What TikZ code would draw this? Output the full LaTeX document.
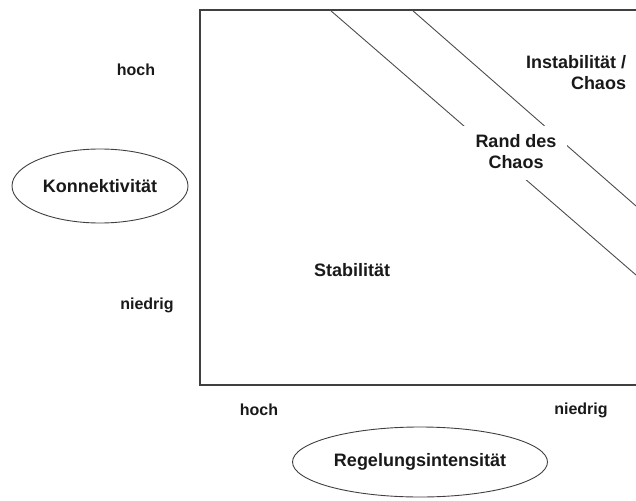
\documentclass[tikz,border=0pt]{standalone}
\usepackage{fontspec}
\setmainfont{Liberation Sans}
\usetikzlibrary{shapes.geometric}
\begin{document}
\begin{tikzpicture}[x=1pt,y=-1pt,
  lbl/.style={font=\fontsize{18}{21}\selectfont\bfseries, text=black!90, align=center, inner sep=0pt},
  axlbl/.style={font=\fontsize{16}{19}\selectfont\bfseries, text=black!90, inner sep=0pt},
  oval/.style={ellipse, draw=black!75, line width=0.9pt, inner sep=0pt},
  diag/.style={draw=black!70, line width=0.9pt},
  frame/.style={draw=black!75, line width=2pt}]
\useasboundingbox (0,0) rectangle (636,500);
% frame (open on the right)
\coordinate (tr) at (640,10);
\coordinate (tl) at (200,10);
\coordinate (bl) at (200,385);
\coordinate (br) at (640,385);
\draw[frame] (tr) -- (tl) -- (bl) -- (br);
% diagonals
\coordinate (d1a) at (330,10);
\coordinate (d1b) at (636,275);
\coordinate (d2a) at (412,10);
\coordinate (d2b) at (636,206);
\draw[diag] (d1a) -- (d1b);
\draw[diag] (d2a) -- (d2b);
% edge of chaos label with white knockout
\node[fill=white, minimum width=104pt, minimum height=54pt, inner sep=0pt] (gap) at (514.5,152.5) {};
\node[lbl] (rand) at (516,152) {Rand des\\Chaos};
\node[lbl, align=right] (chaos) at (576,73) {Instabilität /\\Chaos};
\node[lbl] (stab) at (352,270) {Stabilität};
% y-axis
\node[axlbl] (yhoch) at (136,70) {hoch};
\node[axlbl] (yniedrig) at (147,305) {niedrig};
\node[oval, minimum width=176pt, minimum height=74pt] (konn) at (100,186) {};
\node[lbl] (konnt) at (100,186) {Konnektivität};
% x-axis
\node[axlbl] (xhoch) at (259,410) {hoch};
\node[axlbl] (xniedrig) at (581,410) {niedrig};
\node[oval, minimum width=255pt, minimum height=70pt] (regel) at (420,462) {};
\node[lbl] (regelt) at (420,462) {Regelungsintensität};
\end{tikzpicture}
\end{document}
